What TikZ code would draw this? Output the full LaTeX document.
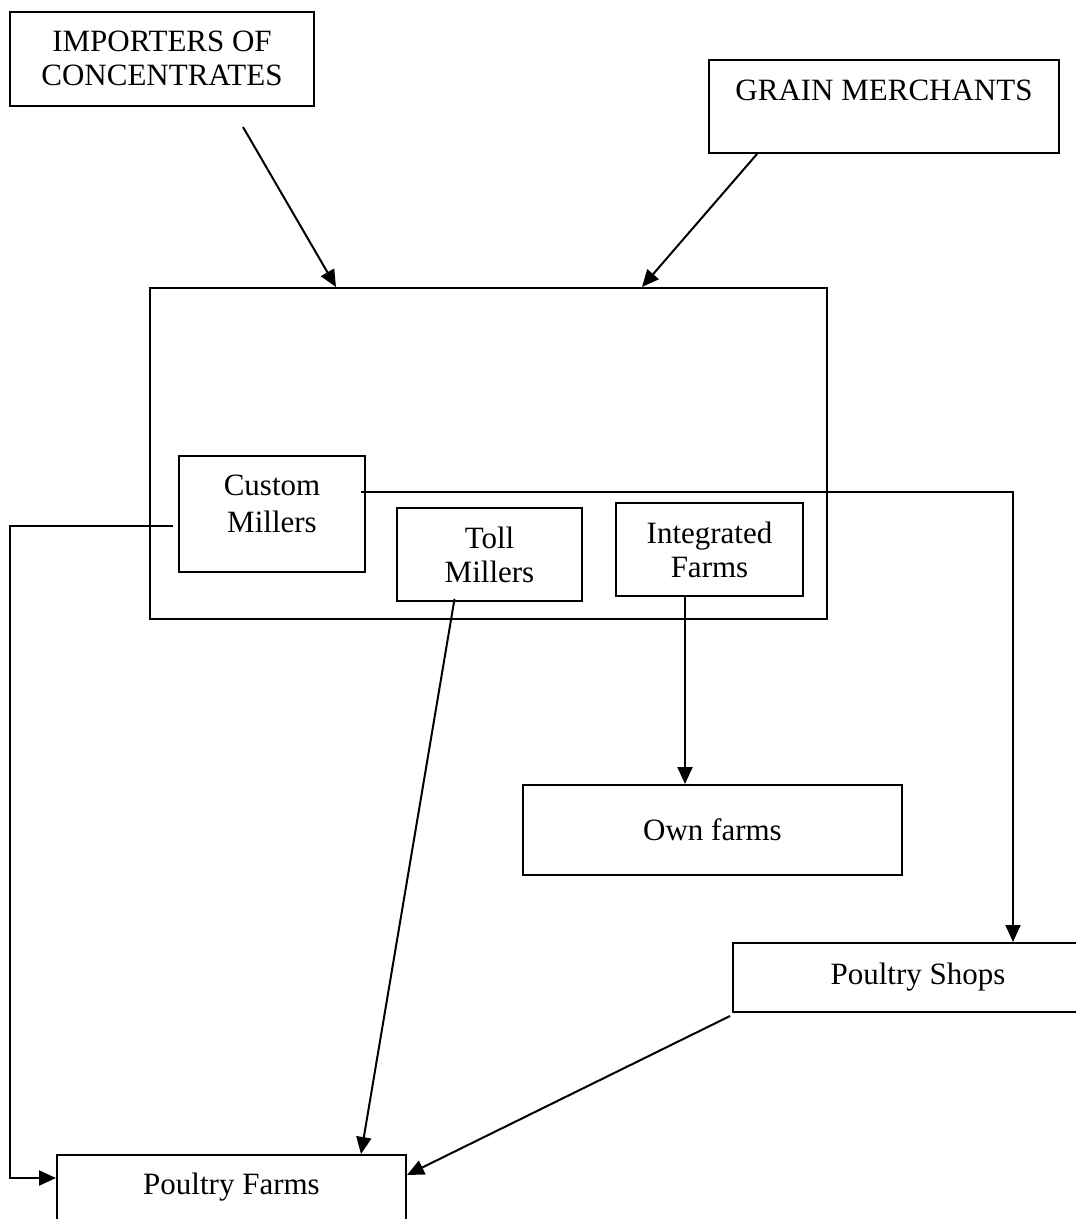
\documentclass[tikz,border=0pt]{standalone}
\usepackage{fontspec}
\setmainfont{Liberation Serif}
\usetikzlibrary{arrows.meta,calc}
\begin{document}
\begin{tikzpicture}[x=1pt,y=-1pt,
  box/.style={draw,line width=2pt,rectangle,inner sep=0pt},
  txt/.style={font=\fontsize{31}{34}\selectfont,align=center,inner sep=0pt},
  conn/.style={line width=2pt,-{Triangle[length=17pt,width=15pt]}},
  plain/.style={line width=2pt}]
\useasboundingbox (0,0) rectangle (1076,1219);
\begin{scope}
\clip (0,0) rectangle (1076,1219);
% outer boxes
\node[box,minimum width=304pt,minimum height=94pt] (imp) at (162,59) {};
\node[txt] (impt) at (162,58) {IMPORTERS OF\\CONCENTRATES};
\node[box,minimum width=350pt,minimum height=93pt] (gm) at (884,106.5) {};
\node[txt] (gmt) at (884,90) {GRAIN MERCHANTS};
\node[box,minimum width=677pt,minimum height=331pt] (big) at (488.5,453.5) {};
\node[box,minimum width=186pt,minimum height=116pt] (cm) at (272,514) {};
\node[txt,font=\fontsize{31}{37}\selectfont] (cmt) at (272,504) {Custom\\Millers};
\node[box,minimum width=185pt,minimum height=93pt] (tm) at (489.5,554.5) {};
\node[txt] at (tm) {Toll\\Millers};
\node[box,minimum width=187pt,minimum height=93pt] (if) at (709.5,549.5) {};
\node[txt] at (if) {Integrated\\Farms};
\node[box,minimum width=379pt,minimum height=90pt] (own) at (712.5,830) {};
\node[txt] at (own) {Own farms};
\node[box,minimum width=370pt,minimum height=69pt] (ps) at (918,977.5) {};
\node[txt] at (ps) {Poultry Shops};
\node[box,minimum width=349pt,minimum height=90pt] (pf) at (231.5,1200) {};
\node[txt] (pft) at (231.5,1187) {Poultry Farms};
% connectors
\coordinate (impstart) at (243,127);
\draw[conn] (impstart) -- (big.north -| 336,0);
\draw[conn] (gm.south -| 757,0) -- (big.north -| 642,0);
\draw[conn] ($(cm.east)+(-5,-22)$) -| (ps.north -| 1013,0);
\draw[conn] ($(cm.west)+(-5,12)$) -| (10,1178) -- (pf.west |- 0,1178);
\draw[conn] ($(tm.south)+(-35,-3)$) -- (pf.north -| 361,0);
\draw[conn] (if.south -| 685,0) -- (own.north -| 685,0);
\draw[conn] ($(ps.south west)+(-2,3)$) -- (pf.east |- 0,1175);
\end{scope}
\end{tikzpicture}
\end{document}
